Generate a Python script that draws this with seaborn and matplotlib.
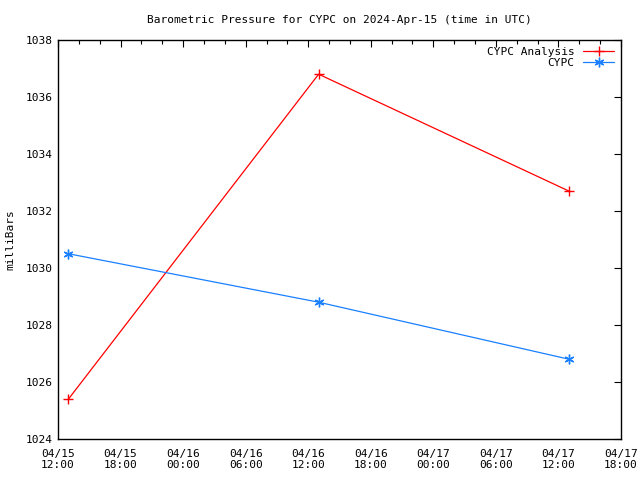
import matplotlib
matplotlib.use("Agg")
import matplotlib.pyplot as plt
import matplotlib.dates as mdates
import seaborn as sns
import pandas as pd

times_analysis = ["2024-04-15 13:00", "2024-04-16 13:00", "2024-04-17 13:00"]
pressure_analysis = [1025.4, 1036.8, 1032.7]
times_obs = ["2024-04-15 13:00", "2024-04-16 13:00", "2024-04-17 13:00"]
pressure_obs = [1030.5, 1028.8, 1026.8]
series_names = ["CYPC Analysis", "CYPC"]
yticks = [1024, 1026, 1028, 1030, 1032, 1034, 1036, 1038]

sns.set_style("white")
plt.rcParams['font.family'] = ['DejaVu Sans Mono', 'DejaVu Sans']
plt.rcParams['font.size'] = 8
plt.rcParams['text.color'] = 'black'
plt.rcParams['axes.labelcolor'] = 'black'

df = pd.concat([
    pd.DataFrame({"time": pd.to_datetime(times_analysis), "p": pressure_analysis, "s": series_names[0]}),
    pd.DataFrame({"time": pd.to_datetime(times_obs), "p": pressure_obs, "s": series_names[1]}),
])

fig = plt.figure(figsize=(6.4, 4.8), dpi=100)
ax = fig.add_axes([58/640, 41/480, (621-58)/640, (440-41)/480])

colors = {"CYPC Analysis": "#ff0000", "CYPC": "#1a80ff"}
markers = {"CYPC Analysis": "+", "CYPC": (6, 2, 0)}
sns.lineplot(data=df, x="time", y="p", hue="s", style="s", palette=colors,
             markers=markers, dashes=False, linewidth=0.9, markersize=7,
             ax=ax)
for ln in ax.get_lines():
    c = ln.get_color()
    ln.set_markeredgecolor(c)
    ln.set_markerfacecolor(c)
    ln.set_markeredgewidth(1.0)

ax.set_xlim(pd.Timestamp("2024-04-15 12:00"), pd.Timestamp("2024-04-17 18:00"))
ax.set_ylim(1024, 1038)
ax.set_yticks(yticks)
ax.xaxis.set_major_locator(mdates.HourLocator(byhour=[0, 6, 12, 18]))
ax.xaxis.set_minor_locator(mdates.HourLocator(interval=2))
ax.xaxis.set_major_formatter(mdates.DateFormatter("%m/%d\n%H:%M"))
ax.tick_params(axis="both", which="both", direction="in", top=True, right=True,
               labelsize=8, colors="black")
ax.tick_params(which="major", length=5, width=0.8)
ax.tick_params(which="minor", length=3, width=0.8)
ax.tick_params(axis="x", pad=7)
for sp in ax.spines.values():
    sp.set_color("black")
    sp.set_linewidth(1.0)

ax.set_xlabel("")
ax.set_ylabel("milliBars", fontsize=8, labelpad=8)
ax.set_title("Barometric Pressure for CYPC on 2024-Apr-15 (time in UTC)", fontsize=8, pad=12)

leg = ax.legend(title=None, loc="upper right", frameon=False, markerfirst=False,
                fontsize=8, handlelength=2.8, borderaxespad=0.2, labelspacing=0.1)
for h in leg.legend_handles:
    c = h.get_color()
    h.set_markeredgecolor(c)
    h.set_markerfacecolor(c)
    h.set_markeredgewidth(1.0)
    h.set_markersize(7)

fig.savefig("out.png", dpi=100)
